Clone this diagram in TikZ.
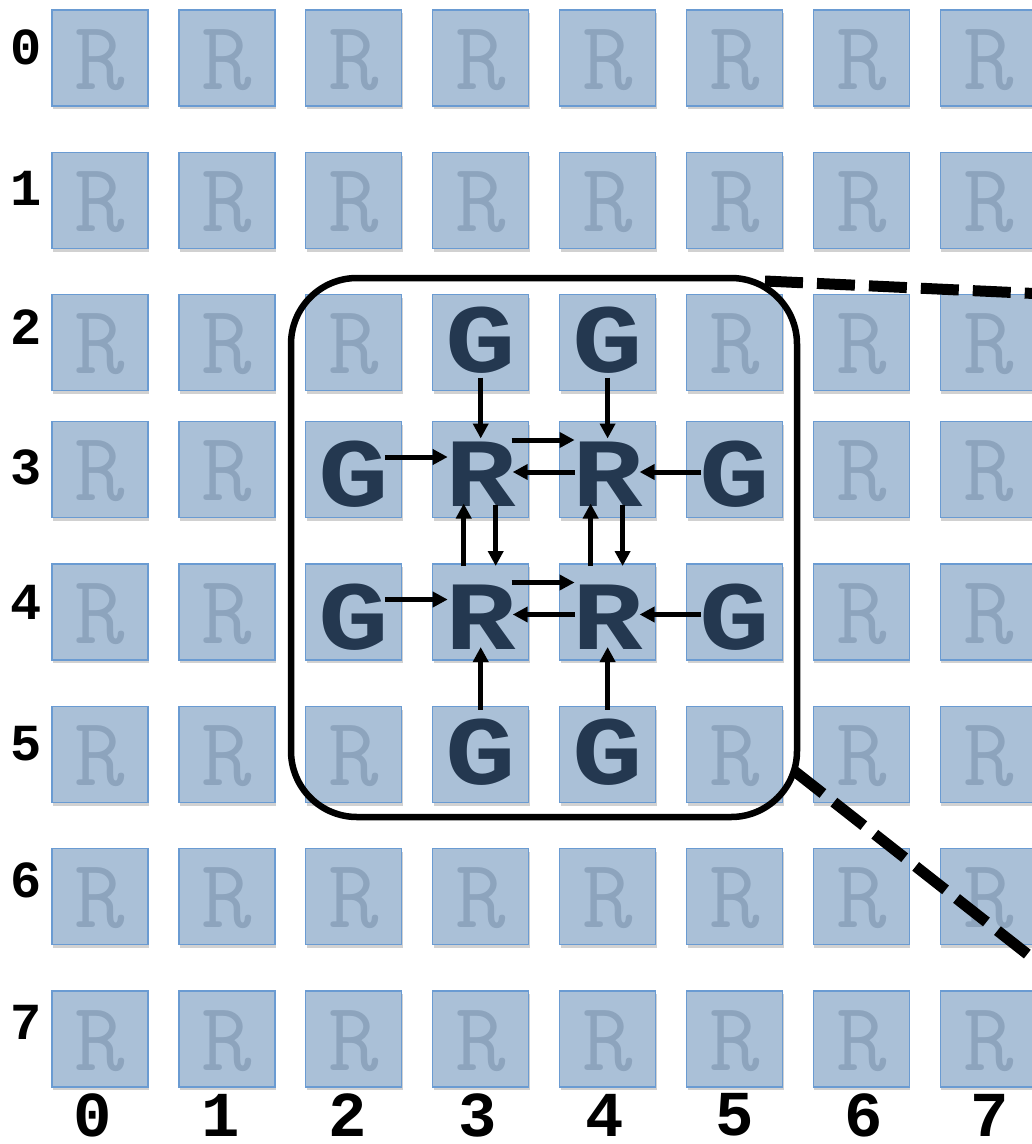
\documentclass[tikz,border=0pt]{standalone}
\usepackage{fontspec}
\newfontfamily\lmono{Liberation Mono}
\usetikzlibrary{arrows.meta,calc,shadows}
\definecolor{cellfill}{HTML}{AAC0D7}
\definecolor{cellborder}{HTML}{6A9BD2}
\definecolor{fadeR}{HTML}{8DA4BD}
\definecolor{darkL}{HTML}{243850}
\newcommand\widen[1]{\scalebox{1.2}[1]{#1}}
\tikzset{
  cell/.style={draw=cellborder, fill=cellfill, line width=1.3pt, minimum width=96pt,
    minimum height=96pt, inner sep=0pt,
    drop shadow={shadow xshift=1pt, shadow yshift=-3pt, opacity=0.18, fill=black}},
  fadedletter/.style={inner sep=0pt, text=fadeR, font=\ttfamily\fontsize{98}{98}\selectfont},
  boldletter/.style={inner sep=0pt, text=darkL, font=\lmono\bfseries\fontsize{98}{98}\selectfont},
  rowlab/.style={inner sep=0pt, font=\lmono\bfseries\fontsize{52}{52}\selectfont},
  collab/.style={inner sep=0pt, font=\lmono\bfseries\fontsize{64}{64}\selectfont},
  flow/.style={-{Triangle[length=15pt,width=15pt]}, line width=5pt},
  zoomline/.style={line width=11pt, dash pattern=on 38pt off 14pt},
}
\begin{document}
\begin{tikzpicture}[x=1pt,y=-1pt]
\useasboundingbox (0,0) rectangle (1032,1144);
\clip (0,0) rectangle (1032,1144);
% cells
\foreach \r/\y in {0/58,1/200.5,2/342.5,3/469.5,4/612,5/754.5,6/896.5,7/1039}{
  \foreach \c in {0,...,7}{
    \pgfmathsetmacro\xx{100+126.9*\c}
    \node[cell] (q-\r-\c) at (\xx,\y) {};
  }
}
% faded letters
\foreach \r in {0,1,6,7}{\foreach \c in {0,...,7}{
  \node[fadedletter] (t-\r-\c) at ($(q-\r-\c.center)+(0,2)$) {R};}}
\foreach \r in {2,5}{\foreach \c in {0,1,2,5,6,7}{
  \node[fadedletter] (t-\r-\c) at ($(q-\r-\c.center)+(0,2)$) {R};}}
\foreach \r in {3,4}{\foreach \c in {0,1,6,7}{
  \node[fadedletter] (t-\r-\c) at ($(q-\r-\c.center)+(0,2)$) {R};}}
% bold letters
\foreach \r/\c in {2/3,2/4,5/3,5/4}{
  \node[boldletter] (t-\r-\c) at ($(q-\r-\c.center)+(0,-2)$) {\widen{G}};}
\foreach \r/\c in {3/2,3/5,4/2,4/5}{
  \node[boldletter] (t-\r-\c) at ($(q-\r-\c.center)+(0,5)$) {\widen{G}};}
\foreach \r/\c in {3/3,3/4,4/3,4/4}{
  \node[boldletter] (t-\r-\c) at ($(q-\r-\c.center)+(0,5)$) {\widen{R}};}
% row labels
\foreach \r/\y in {0/47,1/188,2/327,3/467,4/602,5/744,6/880,7/1022}{
  \node[rowlab] (rl-\r) at (26,\y) {\r};}
% column labels
\foreach \c/\x in {0/93,1/221,2/348,3/478,4/605,5/735,6/864,7/990}{
  \node[collab] (cl-\c) at (\x,1115) {\c};}
% frame
\node[draw, line width=6.5pt, rounded corners=66pt, minimum width=506pt, minimum height=539pt,
  inner sep=0pt] (frame) at (544,547.5) {};
% zoom lines
\coordinate (za) at (765,281);
\coordinate (zae) at (1045,294);
\coordinate (zb) at (793,770);
\coordinate (zbe) at (1045,968);
\draw[zoomline] (za) -- (zae);
\draw[zoomline] (zb) -- (zbe);
% arrows
\foreach \c in {3,4}{
  \draw[flow] ($(q-2-\c.center)+(0,35)$) -- ($(q-3-\c.center)+(0,-31)$);
  \draw[flow] ($(q-5-\c.center)+(0,-45)$) -- ($(q-4-\c.center)+(0,35)$);
  \draw[flow] ($(q-4-\c.center)+(-17,-46)$) -- ($(q-3-\c.center)+(-17,34)$);
  \draw[flow] ($(q-3-\c.center)+(15,35)$) -- ($(q-4-\c.center)+(15,-46)$);
}
\foreach \r in {3,4}{
  \draw[flow] ($(q-\r-2.center)+(31,-12.5)$) -- ($(q-\r-3.center)+(-33,-12.5)$);
  \draw[flow] ($(q-\r-3.center)+(31,-29.5)$) -- ($(q-\r-4.center)+(-33,-29.5)$);
  \draw[flow] ($(q-\r-4.center)+(-33,2.5)$) -- ($(q-\r-3.center)+(32,2.5)$);
  \draw[flow] ($(q-\r-5.center)+(-34,2.5)$) -- ($(q-\r-4.center)+(32,2.5)$);
}
\end{tikzpicture}
\end{document}
